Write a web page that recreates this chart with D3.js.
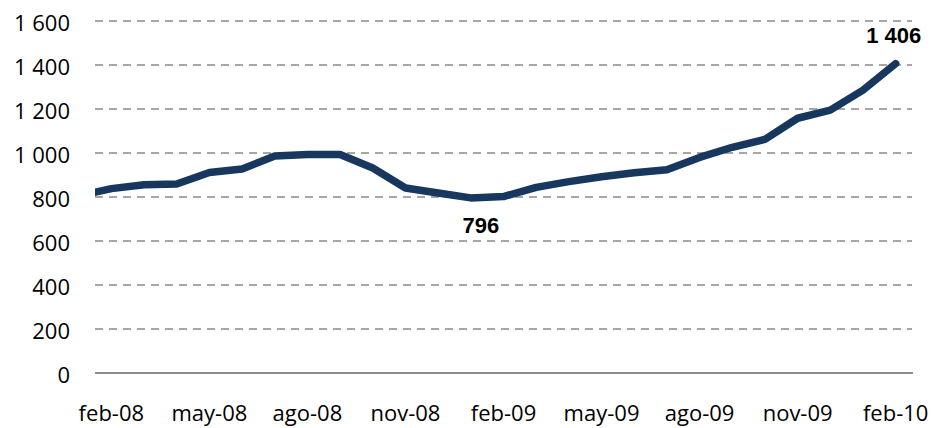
<!DOCTYPE html>
<html>
<head>
<meta charset="utf-8">
<script src="https://cdn.jsdelivr.net/npm/d3@7"></script>
<style>
  body { margin: 0; background: #fff; }
  svg { display: block; }
</style>
</head>
<body>
<div id="chart"></div>
<script>
// months (ene-08 only feeds the clipped lead-in segment at the left edge)
const months = ["ene-08","feb-08","mar-08","abr-08","may-08","jun-08","jul-08","ago-08","sep-08","oct-08","nov-08","dic-08",
  "ene-09","feb-09","mar-09","abr-09","may-09","jun-09","jul-09","ago-09","sep-09","oct-09","nov-09","dic-09",
  "ene-10","feb-10"];
const values = [805, 838, 856, 859, 911, 927, 986, 993, 993, 932, 841, 818,
  796, 802, 844, 870, 892, 910, 924, 980, 1026, 1062, 1158, 1195,
  1286, 1406];
const xLabels = ["feb-08","may-08","ago-08","nov-08","feb-09","may-09","ago-09","nov-09","feb-10"];
const yTicks = [0, 200, 400, 600, 800, 1000, 1200, 1400, 1600];
const callouts = [{month: "ene-09", text: "796", pos: "below"}, {month: "feb-10", text: "1 406", pos: "above"}];

const W = 932, H = 428;
const plot = {left: 95, right: 912, top: 21, bottom: 373};
const step = (plot.right - plot.left) / 25;

const svg = d3.select("#chart").append("svg")
  .attr("width", W).attr("height", H);

const x = d3.scaleBand()
  .domain(months)
  .range([plot.left - step, plot.right]);
const cx = m => x(m) + x.bandwidth() / 2;

const y = d3.scaleLinear()
  .domain([0, 1600])
  .range([plot.bottom, plot.top]);

const fmt = d3.formatLocale({decimal: ",", thousands: "\u00a0", grouping: [3], currency: ["", ""]}).format(",d");

// dashed grid
svg.append("g")
  .selectAll("line")
  .data(yTicks.filter(d => d > 0))
  .join("line")
  .attr("x1", plot.left).attr("x2", plot.right)
  .attr("y1", d => y(d)).attr("y2", d => y(d))
  .attr("stroke", "#a6a6a6")
  .attr("stroke-width", 2)
  .attr("stroke-dasharray", "8,6");

// base line
svg.append("line")
  .attr("x1", plot.left).attr("x2", plot.right + 1)
  .attr("y1", y(0)).attr("y2", y(0))
  .attr("stroke", "#8c8c8c")
  .attr("stroke-width", 2);

// y axis labels
const yAxis = svg.append("g")
  .attr("transform", `translate(${plot.left - 25},0)`)
  .call(d3.axisLeft(y).tickValues(yTicks).tickSize(0).tickFormat(fmt));
yAxis.select(".domain").remove();
yAxis.selectAll("text")
  .attr("x", 0).attr("dy", "0.42em")
  .style("font-family", "'Open Sans', sans-serif")
  .style("font-size", "22px")
  .attr("fill", "#000");

// x axis labels
const xAxis = svg.append("g")
  .attr("transform", `translate(0,${plot.bottom})`)
  .call(d3.axisBottom(x).tickValues(xLabels).tickSize(0));
xAxis.select(".domain").remove();
xAxis.selectAll("text")
  .attr("y", 32).attr("dy", "0.71em")
  .style("font-family", "'Open Sans', sans-serif")
  .style("font-size", "22px")
  .attr("fill", "#000");

// clip for the line
svg.append("clipPath").attr("id", "clip")
  .append("rect")
  .attr("x", plot.left).attr("y", 0)
  .attr("width", W - plot.left).attr("height", H);

const line = d3.line()
  .x((d, i) => cx(months[i]))
  .y(d => y(d));

svg.append("path")
  .datum(values)
  .attr("clip-path", "url(#clip)")
  .attr("d", line)
  .attr("fill", "none")
  .attr("stroke", "#17375e")
  .attr("stroke-width", 7.5)
  .attr("stroke-linejoin", "round")
  .attr("stroke-linecap", "round");

// value callouts
svg.append("g")
  .selectAll("text")
  .data(callouts)
  .join("text")
  .attr("x", d => cx(d.month) + (d.pos === "below" ? 10 : -2))
  .attr("y", d => y(values[months.indexOf(d.month)]) + (d.pos === "below" ? 35 : -21))
  .attr("text-anchor", "middle")
  .style("font-family", "'Liberation Sans', Arial, sans-serif")
  .style("font-weight", "bold")
  .style("font-size", "22px")
  .attr("fill", "#000")
  .text(d => d.text);
</script>
</body>
</html>
